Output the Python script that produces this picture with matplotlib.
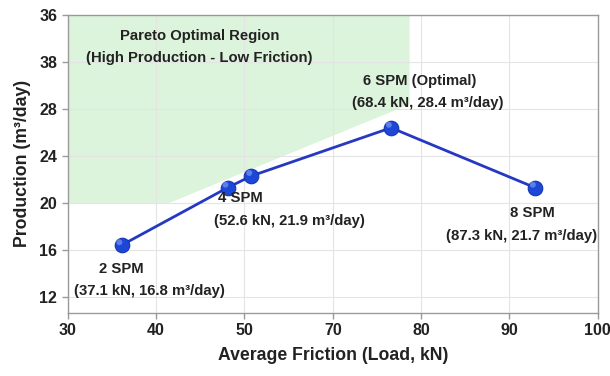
import matplotlib
matplotlib.use("Agg")
import matplotlib.pyplot as plt
from matplotlib.patches import Polygon

plt.rcParams['font.family'] = ['Liberation Sans', 'DejaVu Sans']

# data (axis units)
spm_x = [36.1, 48.1, 50.8, 66.6, 82.9]
spm_y = [16.4, 21.3, 22.3, 26.4, 21.3]

x_ticks = [30, 40, 50, 60, 70, 80, 90]
x_tick_labels = ["30", "40", "50", "70", "80", "90", "100"]
y_ticks = [12, 16, 20, 24, 28, 32, 36]
y_tick_labels = ["12", "16", "20", "24", "28", "38", "36"]

region_x = [30, 68.7, 68.7, 41.5, 30]
region_y = [36, 36, 28.4, 20, 20]

labels = [
    ("2 SPM", 36.1, 14.4),
    ("(37.1 kN, 16.8 m³/day)", 39.3, 12.5),
    ("4 SPM", 49.6, 20.4),
    ("(52.6 kN, 21.9 m³/day)", 55.1, 18.5),
    ("6 SPM (Optimal)", 69.8, 30.4),
    ("(68.4 kN, 28.4 m³/day)", 70.8, 28.5),
    ("8 SPM", 82.6, 19.1),
    ("(87.3 kN, 21.7 m³/day)", 81.4, 17.2),
    ("Pareto Optimal Region", 44.9, 34.2),
    ("(High Production - Low Friction)", 44.9, 32.3),
]

fig = plt.figure(figsize=(6.10, 3.76), dpi=100)
ax = fig.add_axes([0.111, 0.168, 0.869, 0.792])
ax.set_xlim(30, 90)
ax.set_ylim(10.64, 36)

ax.add_patch(Polygon(list(zip(region_x, region_y)), closed=True,
                     facecolor="#dcf3dc", edgecolor="none", zorder=0))

ax.set_xticks(x_ticks)
ax.set_xticklabels(x_tick_labels)
ax.set_yticks(y_ticks)
ax.set_yticklabels(y_tick_labels)
ax.grid(True, color="#e4e4e4", linewidth=0.8, zorder=0.5)
ax.set_axisbelow(True)

for s in ax.spines.values():
    s.set_color("#9a9a9a")
    s.set_linewidth(1.0)
ax.tick_params(axis="both", colors="#9a9a9a", length=4, width=1,
               labelcolor="#222222", labelsize=11.5)
for lab in ax.get_xticklabels() + ax.get_yticklabels():
    lab.set_fontweight("bold")

ax.plot(spm_x, spm_y, color="#2438c4", linewidth=2, zorder=3)
ax.scatter(spm_x, spm_y, s=110, color="#1d47d6", edgecolors="#1535b0",
           linewidths=0.8, zorder=4)
ax.scatter([v - 0.25 for v in spm_x], [v + 0.25 for v in spm_y], s=18,
           color="#6f8cf0", edgecolors="none", zorder=5, alpha=0.8)

for txt, x, y in labels:
    ax.text(x, y, txt, ha="center", va="center", fontsize=10.7,
            fontweight="bold", color="#222222", zorder=6)

ax.set_xlabel("Average Friction (Load, kN)", fontsize=12.7, fontweight="bold",
              color="#222222", labelpad=6)
ax.set_ylabel("Production (m³/day)", fontsize=12.7, fontweight="bold",
              color="#222222", labelpad=6)

fig.savefig("out.png", dpi=100)
